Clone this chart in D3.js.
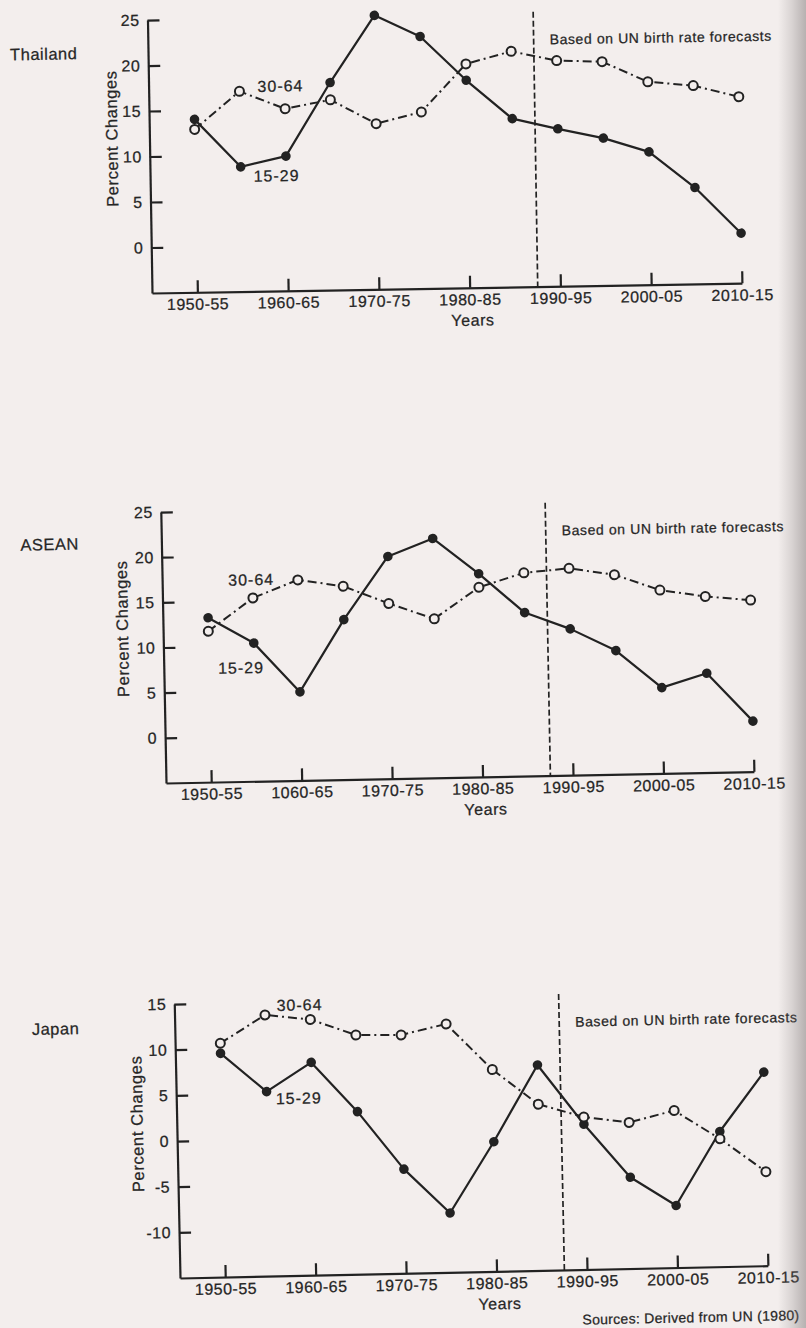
<!DOCTYPE html>
<html>
<head>
<meta charset="utf-8">
<script src="https://cdn.jsdelivr.net/npm/d3@7"></script>
<style>
  html, body { margin: 0; padding: 0; background: #f3eeed; }
  svg { display: block; }
  text { font-family: "Liberation Sans", Arial, Helvetica, sans-serif; fill: #262626; stroke: #262626; stroke-width: 0.25px; }
</style>
</head>
<body>
<svg id="page" width="806" height="1328"></svg>
<script>
// Five-year periods, by start year
const periods = [1950, 1955, 1960, 1965, 1970, 1975, 1980, 1985, 1990, 1995, 2000, 2005, 2010];
const decadeTicks = [1950, 1960, 1970, 1980, 1990, 2000, 2010];

// Axis tick labels
const thailandTickLabels = ["1950-55", "1960-65", "1970-75", "1980-85", "1990-95", "2000-05", "2010-15"];
const aseanTickLabels    = ["1950-55", "1060-65", "1970-75", "1980-85", "1990-95", "2000-05", "2010-15"];
const japanTickLabels    = ["1950-55", "1960-65", "1970-75", "1980-85", "1990-95", "2000-05", "2010-15"];
const ticksFrom0To25 = [0, 5, 10, 15, 20, 25];
const ticksFromMinus10To15 = [-10, -5, 0, 5, 10, 15];

// Percent change of the population aged 15-29 and 30-64 per period
const thailand15to29 = [14.0, 8.7, 9.8, 17.8, 25.1, 22.7, 17.8, 13.5, 12.3, 11.2, 9.6, 5.6, 0.5];
const thailand30to64 = [12.9, 17.0, 15.0, 15.9, 13.2, 14.4, 19.6, 20.9, 19.8, 19.6, 17.3, 16.8, 15.5];
const asean15to29    = [13.2, 10.3, 4.8, 12.7, 19.6, 21.5, 17.5, 13.1, 11.2, 8.7, 4.5, 6.0, 0.6];
const asean30to64    = [11.7, 15.3, 17.2, 16.4, 14.4, 12.6, 16.0, 17.5, 17.9, 17.1, 15.3, 14.5, 14.0];
const japan15to29    = [9.5, 5.2, 8.3, 2.8, -3.6, -8.5, -0.8, 7.5, 0.9, -5.0, -8.2, -0.2, 6.2];
const japan30to64    = [10.6, 13.6, 13.0, 11.2, 11.1, 12.2, 7.1, 3.2, 1.7, 1.0, 2.2, -1.0, -4.7];

// Projections to the right of this point use UN birth rate forecasts
const forecastStart = 1987.5;

const INK = "#222222";
const PAPER = "#f3eeed";

const panels = [
  {
    name: "Thailand", tickLabels: thailandTickLabels, young: thailand15to29, old: thailand30to64,
    yDomain: [-5, 25], yTicks: ticksFrom0To25,
    left: 152, right: 742, bottom: 293, top: 20, tilt: -0.95,
    titleAt: [14, 58], yTitleAt: [120, 138],
    youngLabelAt: [1956.4, 7.05], oldLabelAt: [1957.0, 16.9]
  },
  {
    name: "ASEAN", tickLabels: aseanTickLabels, young: asean15to29, old: asean30to64,
    yDomain: [-5, 25], yTicks: ticksFrom0To25,
    left: 166, right: 754, bottom: 783, top: 512, tilt: -1.1,
    titleAt: [25, 548], yTitleAt: [131, 628],
    youngLabelAt: [1951.0, 6.97], oldLabelAt: [1952.3, 16.7]
  },
  {
    name: "Japan", tickLabels: japanTickLabels, young: japan15to29, old: japan30to64,
    yDomain: [-15, 15], yTicks: ticksFromMinus10To15,
    left: 180, right: 768, bottom: 1278, top: 1004, tilt: -1.2,
    titleAt: [37, 1032], yTitleAt: [146, 1123],
    youngLabelAt: [1956.0, 3.8], oldLabelAt: [1956.3, 14.0],
    source: "Sources: Derived from UN (1980)"
  }
];

const svg = d3.select("#page");

svg.append("rect").attr("width", 806).attr("height", 1328).attr("fill", PAPER);

function styleAxis(sel) {
  sel.attr("font-size", null).attr("font-family", null);
  sel.select(".domain").attr("stroke", INK).attr("stroke-width", 2.2);
  sel.selectAll(".tick line").attr("stroke", INK).attr("stroke-width", 2.2);
  sel.selectAll(".tick text")
    .attr("fill", INK)
    .style("font-size", "16px")
    .style("letter-spacing", "0.5px");
}

function drawPanel(p) {
  const g = svg.append("g")
    .attr("transform", `rotate(${p.tilt}, ${p.left}, ${p.bottom})`);

  const x = d3.scaleLinear().domain([1945, 2010]).range([p.left, p.right]);
  const y = d3.scaleLinear().domain(p.yDomain).range([p.bottom, p.top]);

  // Axes: ticks point inward
  g.append("g")
    .attr("transform", `translate(${p.left},0)`)
    .call(d3.axisLeft(y)
      .tickValues(p.yTicks)
      .tickFormat(d => String(d))
      .tickSize(-12).tickSizeOuter(0).tickPadding(8))
    .call(styleAxis);

  g.append("g")
    .attr("transform", `translate(0,${p.bottom})`)
    .call(d3.axisBottom(x)
      .tickValues(decadeTicks)
      .tickFormat((d, i) => p.tickLabels[i])
      .tickSize(-12).tickSizeOuter(0).tickPadding(6))
    .call(styleAxis);

  // Forecast boundary
  g.append("line")
    .attr("x1", x(forecastStart)).attr("x2", x(forecastStart))
    .attr("y1", p.top - 2).attr("y2", p.bottom)
    .attr("stroke", INK).attr("stroke-width", 1.7)
    .attr("stroke-dasharray", "6,3");

  g.append("text")
    .attr("x", x(forecastStart) + 16).attr("y", p.top + 31)
    .style("font-size", "14px").style("letter-spacing", "0.6px")
    .text("Based on UN birth rate forecasts");

  const line = d3.line()
    .x((d, i) => x(periods[i]))
    .y(d => y(d));

  // 15-29: solid line, filled markers
  g.append("path")
    .datum(p.young)
    .attr("d", line)
    .attr("fill", "none").attr("stroke", INK).attr("stroke-width", 2.2)
    .attr("stroke-linejoin", "round");

  g.append("g").selectAll("circle")
    .data(p.young)
    .join("circle")
    .attr("cx", (d, i) => x(periods[i]))
    .attr("cy", d => y(d))
    .attr("r", 4.8)
    .attr("fill", INK);

  // 30-64: dash-dot line, open markers
  g.append("path")
    .datum(p.old)
    .attr("d", line)
    .attr("fill", "none").attr("stroke", INK).attr("stroke-width", 2)
    .attr("stroke-dasharray", "9,4,2,4");

  g.append("g").selectAll("circle")
    .data(p.old)
    .join("circle")
    .attr("cx", (d, i) => x(periods[i]))
    .attr("cy", d => y(d))
    .attr("r", 4.5)
    .attr("fill", PAPER).attr("stroke", INK).attr("stroke-width", 2);

  // Series labels
  g.append("text")
    .attr("x", x(p.oldLabelAt[0])).attr("y", y(p.oldLabelAt[1]))
    .style("font-size", "16px").style("letter-spacing", "1px")
    .text("30-64");
  g.append("text")
    .attr("x", x(p.youngLabelAt[0])).attr("y", y(p.youngLabelAt[1]))
    .style("font-size", "16px").style("letter-spacing", "1px")
    .text("15-29");

  // Titles
  g.append("text")
    .attr("x", p.titleAt[0]).attr("y", p.titleAt[1])
    .style("font-size", "16.5px").style("letter-spacing", "0.5px")
    .text(p.name);

  g.append("text")
    .attr("transform", `translate(${p.yTitleAt[0]},${p.yTitleAt[1]}) rotate(-90)`)
    .attr("text-anchor", "middle")
    .style("font-size", "16.5px").style("letter-spacing", "0.6px")
    .text("Percent Changes");

  g.append("text")
    .attr("x", x(1980.3)).attr("y", p.bottom + 38)
    .attr("text-anchor", "middle")
    .style("font-size", "16px").style("letter-spacing", "0.6px")
    .text("Years");

  if (p.source) {
    g.append("text")
      .attr("x", x(forecastStart) + 17).attr("y", p.bottom + 55)
      .style("font-size", "14px").style("letter-spacing", "0.3px")
      .text(p.source);
  }
}

panels.forEach(drawPanel);

// Darkening toward the binding edge on the right
const defs = svg.append("defs");
const grad = defs.append("linearGradient").attr("id", "gutter").attr("x1", 0).attr("x2", 1).attr("y1", 0).attr("y2", 0);
grad.append("stop").attr("offset", 0).attr("stop-color", "#7a7474").attr("stop-opacity", 0);
grad.append("stop").attr("offset", 0.5).attr("stop-color", "#7a7474").attr("stop-opacity", 0.22);
grad.append("stop").attr("offset", 1).attr("stop-color", "#7a7474").attr("stop-opacity", 0.5);
svg.append("rect").attr("x", 778).attr("y", 0).attr("width", 28).attr("height", 1328).attr("fill", "url(#gutter)");
</script>
</body>
</html>
